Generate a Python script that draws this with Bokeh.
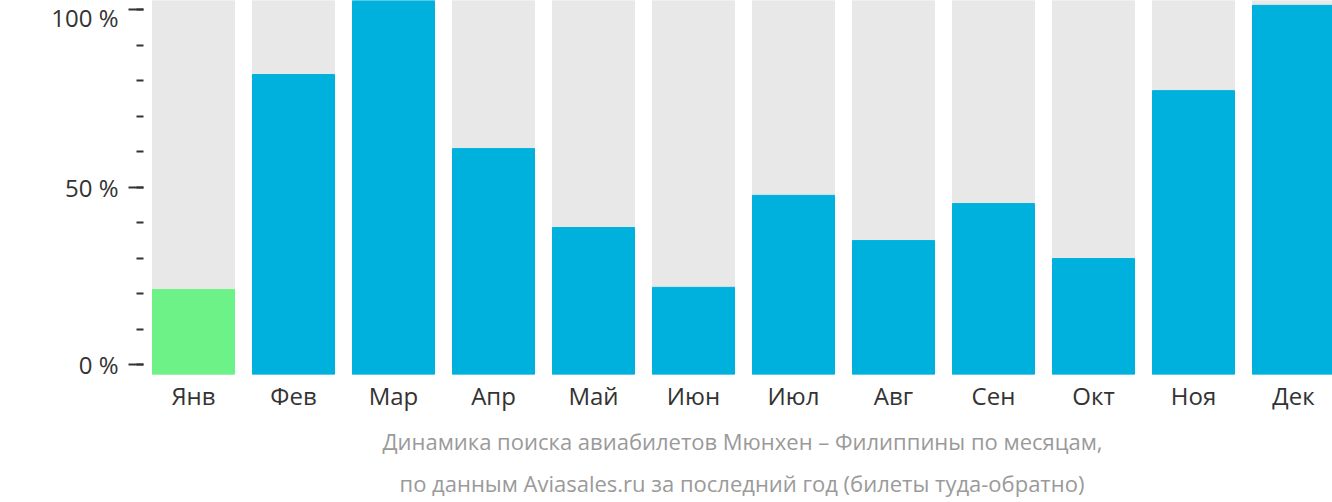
from bokeh.plotting import figure
from bokeh.models import Range1d, LinearAxis, FixedTicker, Title, ColumnDataSource
from bokeh.embed import file_html
from bokeh.resources import INLINE

months = ["Янв", "Фев", "Мар", "Апр", "Май", "Июн", "Июл", "Авг", "Сен", "Окт", "Ноя", "Дек"]
values = [22.7, 80.2, 100, 60.4, 39.3, 23.3, 47.9, 35.8, 45.7, 31.0, 75.9, 98.7]
full = [100] * len(months)
bar_colors = ["#6cf286"] + ["#00b1dd"] * 11
y_ticks = [0, 50, 100]
y_tick_labels = ["0 %", "50 %", "100 %"]
caption = ["Динамика поиска авиабилетов Мюнхен – Филиппины по месяцам,",
           "по данным Aviasales.ru за последний год (билеты туда-обратно)"]

xs = [i + 0.5 for i in range(len(months))]
src = ColumnDataSource(dict(x=xs, top=values, full=full, color=bar_colors))

p = figure(frame_width=1189, frame_height=374, output_backend="svg", toolbar_location=None,
           x_range=Range1d(0, 11.89), y_range=Range1d(0, 100),
           min_border_left=143, min_border_right=0, min_border_top=0, min_border_bottom=128,
           outline_line_color=None)
p.grid.visible = False
p.yaxis.visible = False
p.background_fill_color = "white"
p.border_fill_color = "white"

p.vbar(x="x", top="full", bottom=0, width=0.82, color="#e8e8e8", source=src)
p.vbar(x="x", top="top", bottom=0, width=0.82, color="color", source=src)

# x axis
xa = p.xaxis[0]
xa.ticker = FixedTicker(ticks=xs)
xa.major_label_overrides = {x: m for x, m in zip(xs, months)}
xa.axis_line_color = None
xa.major_tick_line_color = None
xa.minor_tick_line_color = None
xa.major_label_text_font = "Open Sans"
xa.major_label_text_font_size = "24px"
xa.major_label_text_color = "#333333"
xa.major_label_standoff = -2

# y axis on its own range
p.extra_y_ranges = {"pct": Range1d(-2.817, 102.54)}
ya = LinearAxis(y_range_name="pct")
ya.ticker = FixedTicker(ticks=y_ticks, minor_ticks=list(range(0, 101, 10)))
ya.major_label_overrides = {t: l for t, l in zip(y_ticks, y_tick_labels)}
ya.axis_line_color = None
ya.major_tick_line_color = "#333333"
ya.major_tick_line_width = 2
ya.major_tick_in = 0
ya.major_tick_out = 15
ya.minor_tick_line_color = "#333333"
ya.minor_tick_line_width = 2
ya.minor_tick_in = 0
ya.minor_tick_out = 7
ya.major_label_text_font = "Open Sans"
ya.major_label_text_font_size = "24px"
ya.major_label_text_color = "#333333"
ya.major_label_standoff = 10
p.add_layout(ya, "left")

for line, sof, off in zip(caption, [19, 0], [239, 256]):
    p.add_layout(Title(text=line, align="left", text_font="Open Sans",
                       text_font_size="22px", text_font_style="normal",
                       text_color="#9a9a9a", offset=off, standoff=sof), "below")

open("out.html", "w").write(file_html(p, INLINE))
